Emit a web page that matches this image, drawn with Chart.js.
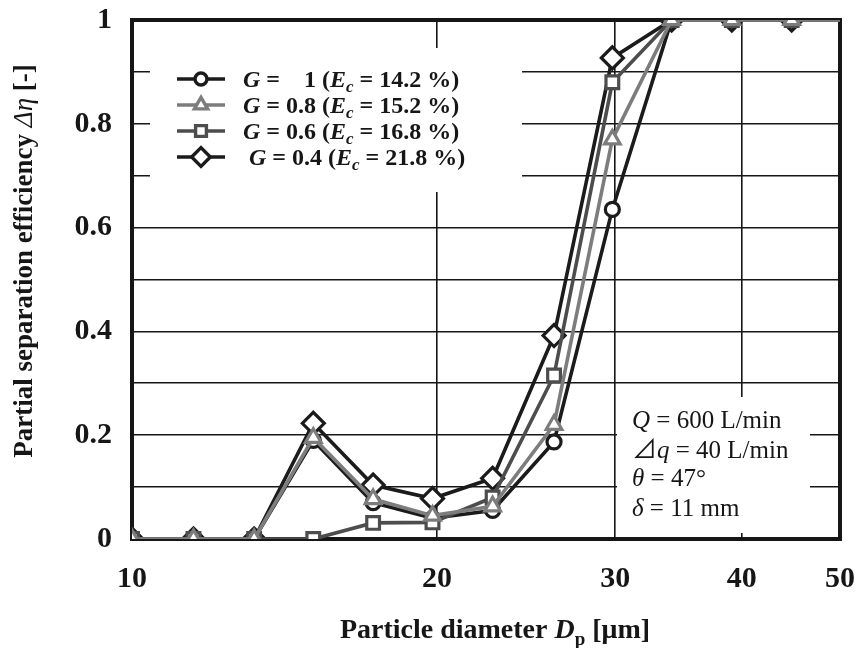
<!DOCTYPE html>
<html>
<head>
<meta charset="utf-8">
<script src="https://cdn.jsdelivr.net/npm/chart.js@4/dist/chart.umd.min.js"></script>
<style>
  html, body { margin: 0; padding: 0; background: #fff; }
  #wrap { width: 860px; height: 648px; }
</style>
</head>
<body>
<div id="wrap"><canvas id="c" width="860" height="648"></canvas></div>
<script>
// Particle diameters [µm] and partial separation efficiencies for each G
const diameters = [10, 11.5, 13.2, 15.1, 17.3, 19.8, 22.7, 26.1, 29.8, 34.1, 39.1, 44.8, 51.2];
const effG10 = [0, 0, 0, 0.19, 0.07, 0.04, 0.055, 0.187, 0.635, 1, 1, 1, 1];
const effG08 = [0, 0, 0, 0.195, 0.077, 0.045, 0.063, 0.22, 0.77, 1, 1, 1, 1];
const effG06 = [0, 0, 0, 0, 0.031, 0.032, 0.08, 0.315, 0.88, 1, 1, 1, 1];
const effG04 = [0, 0, 0, 0.223, 0.104, 0.078, 0.117, 0.392, 0.927, 1, 1, 1, 1];
const gValues = ['1', '0.8', '0.6', '0.4'];
const ecValues = ['14.2', '15.2', '16.8', '21.8'];
const xTicks = [10, 20, 30, 40, 50];
const yLabelValues = [0, 0.2, 0.4, 0.6, 0.8, 1];

const SERIF = '"Liberation Serif", "Times New Roman", "DejaVu Serif", serif';
const SYM = '"Liberation Serif", "DejaVu Serif", "Noto Sans CJK JP", serif';
const INK = '#161616';

const seriesStyles = [
  { color: '#1b1b1b', pointStyle: 'circle',   radius: 7,  order: 2 },
  { color: '#7d7d7d', pointStyle: 'triangle', radius: 9,  order: 0 },
  { color: '#4d4d4d', pointStyle: 'rect',     radius: 9,  order: 1 },
  { color: '#1b1b1b', pointStyle: 'rectRot',  radius: 11, order: 3 }
];
const seriesValues = [effG10, effG08, effG06, effG04];

function toPoints(values) {
  return values.map((v, i) => ({ x: diameters[i], y: v }));
}

const datasets = seriesValues.map((vals, k) => {
  const s = seriesStyles[k];
  return {
    label: 'G = ' + gValues[k],
    data: toPoints(vals),
    borderColor: s.color,
    backgroundColor: '#ffffff',
    borderWidth: 3.6,
    pointStyle: s.pointStyle,
    pointRadius: s.radius,
    pointBorderWidth: 3.2,
    pointBorderColor: s.color,
    pointBackgroundColor: '#ffffff',
    tension: 0,
    order: s.order
  };
});

// Draw a run of text pieces with mixed styles
function drawRich(ctx, segs, x, y, align) {
  let total = 0;
  segs.forEach(s => { ctx.font = s.font; s.w = ctx.measureText(s.t).width; total += s.w; });
  let cx = align === 'center' ? x - total / 2 : x;
  ctx.textAlign = 'left';
  ctx.textBaseline = 'alphabetic';
  segs.forEach(s => {
    ctx.font = s.font;
    ctx.fillText(s.t, cx, y + (s.dy || 0));
    cx += s.w;
  });
}

const legendBox = { x1: 150, y1: 48, x2: 522, y2: 192 };
const noteBox = { x1: 617, y1: 397, x2: 810, y2: 533 };

const framePlugin = {
  id: 'frame',
  beforeDatasetsDraw(chart) {
    const { ctx, chartArea: a } = chart;
    ctx.save();
    // white panels for legend and operating conditions
    ctx.fillStyle = '#ffffff';
    ctx.fillRect(legendBox.x1, legendBox.y1, legendBox.x2 - legendBox.x1, legendBox.y2 - legendBox.y1);
    ctx.fillRect(noteBox.x1, noteBox.y1, noteBox.x2 - noteBox.x1, noteBox.y2 - noteBox.y1);
    // plot frame
    ctx.strokeStyle = INK;
    ctx.lineWidth = 4;
    ctx.strokeRect(a.left, a.top, a.right - a.left, a.bottom - a.top);
    ctx.restore();
  },
  afterDatasetsDraw(chart) {
    const { ctx } = chart;
    ctx.save();
    ctx.fillStyle = INK;

    // legend
    const rowY = [79, 105, 131, 157];
    seriesStyles.forEach((s, k) => {
      const cy = rowY[k];
      ctx.strokeStyle = s.color;
      ctx.lineWidth = 3.4;
      ctx.beginPath();
      ctx.moveTo(177, cy);
      ctx.lineTo(225, cy);
      ctx.stroke();
      ctx.fillStyle = '#ffffff';
      Chart.helpers.drawPoint(ctx, { pointStyle: s.pointStyle, radius: s.radius * 0.85, borderWidth: 3, rotation: 0 }, 201, cy);
      ctx.fillStyle = INK;
      const gTxt = gValues[k] === '1' ? ' =    1 (' : ' = ' + gValues[k] + ' (';
      drawRich(ctx, [
        { t: 'G', font: 'italic bold 24px ' + SERIF },
        { t: gTxt, font: 'bold 24px ' + SERIF },
        { t: 'E', font: 'italic bold 24px ' + SERIF },
        { t: 'c', font: 'italic bold 17px ' + SERIF, dy: 5 },
        { t: ' = ' + ecValues[k] + ' %)', font: 'bold 24px ' + SERIF }
      ], k === 3 ? 249 : 243, cy + 8, 'left');
    });

    // operating conditions
    const reg = '25px ' + SYM;
    const ita = 'italic 25px ' + SYM;
    drawRich(ctx, [{ t: 'Q', font: ita }, { t: ' = 600 L/min', font: reg }], 632, 428, 'left');
    drawRich(ctx, [{ t: '\u22BF', font: reg }, { t: 'q', font: ita }, { t: ' = 40 L/min', font: reg }], 632, 458, 'left');
    drawRich(ctx, [{ t: '\u03B8', font: ita }, { t: ' = 47\u00B0', font: reg }], 632, 486, 'left');
    drawRich(ctx, [{ t: '\u03B4', font: ita }, { t: ' = 11 mm', font: reg }], 632, 516, 'left');

    // axis titles
    drawRich(ctx, [
      { t: 'Particle diameter ', font: 'bold 28px ' + SERIF },
      { t: 'D', font: 'italic bold 28px ' + SERIF },
      { t: 'p', font: 'bold 19px ' + SERIF, dy: 7 },
      { t: ' [\u03BCm]', font: 'bold 28px ' + SERIF }
    ], 495, 638, 'center');

    ctx.translate(32, 261);
    ctx.rotate(-Math.PI / 2);
    drawRich(ctx, [
      { t: 'Partial separation efficiency ', font: 'bold 27px ' + SERIF },
      { t: '\u0394\u03B7', font: 'italic 27px ' + SYM },
      { t: ' [-]', font: 'bold 27px ' + SERIF }
    ], 0, 0, 'center');
    ctx.restore();
  }
};

new Chart(document.getElementById('c'), {
  type: 'line',
  data: { datasets },
  plugins: [framePlugin],
  options: {
    responsive: false,
    animation: false,
    devicePixelRatio: 1,
    layout: { padding: { top: 20, right: 20, left: 0, bottom: 0 } },
    plugins: { legend: { display: false }, tooltip: { enabled: false } },
    scales: {
      x: {
        type: 'logarithmic',
        min: 10,
        max: 50,
        afterBuildTicks: s => { s.ticks = xTicks.map(v => ({ value: v })); },
        afterFit: s => { s.height = 109; s.paddingLeft = 0; s.paddingRight = 0; },
        border: { display: false },
        grid: {
          drawTicks: false,
          lineWidth: 1.6,
          color: c => (c.tick && (c.tick.value === 10 || c.tick.value === 50)) ? 'rgba(0,0,0,0)' : INK
        },
        ticks: {
          autoSkip: false,
          maxRotation: 0,
          padding: 22,
          color: INK,
          font: { family: SERIF, size: 30, weight: 'bold' },
          callback: v => String(v)
        }
      },
      y: {
        min: 0,
        max: 1,
        afterFit: s => { s.width = 132; s.paddingTop = 0; s.paddingBottom = 0; },
        border: { display: false },
        grid: {
          drawTicks: false,
          lineWidth: 1.6,
          color: c => (c.tick && (c.tick.value <= 0.001 || c.tick.value >= 0.999)) ? 'rgba(0,0,0,0)' : INK
        },
        ticks: {
          stepSize: 0.1,
          padding: 20,
          color: INK,
          font: { family: SERIF, size: 30, weight: 'bold' },
          callback: v => {
            const hit = yLabelValues.find(t => Math.abs(t - v) < 1e-6);
            return hit === undefined ? '' : String(hit);
          }
        }
      }
    }
  }
});
</script>
</body>
</html>
